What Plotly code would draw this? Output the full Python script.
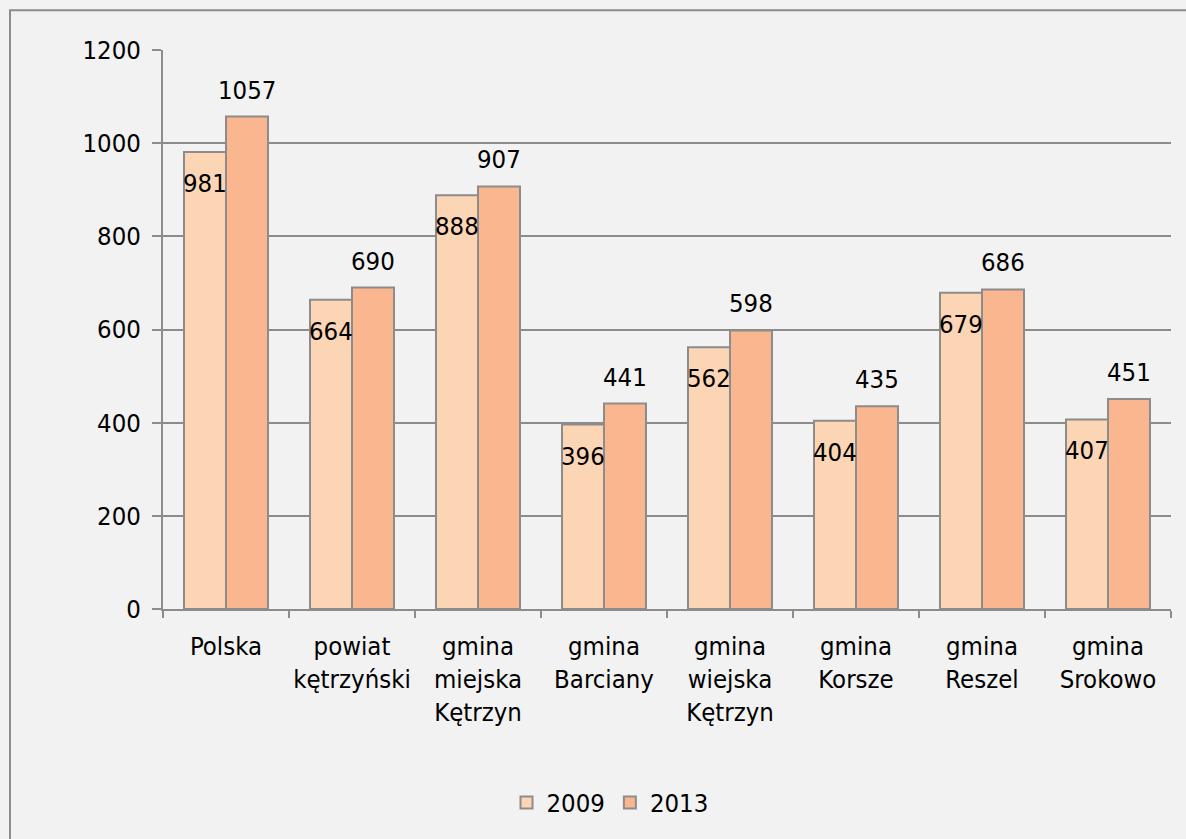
import plotly.graph_objects as go

categories = ["Polska", "powiat<br>kętrzyński", "gmina<br>miejska<br>Kętrzyn", "gmina<br>Barciany",
              "gmina<br>wiejska<br>Kętrzyn", "gmina<br>Korsze", "gmina<br>Reszel", "gmina<br>Srokowo"]
values_2009 = [981, 664, 888, 396, 562, 404, 679, 407]
values_2013 = [1057, 690, 907, 441, 598, 435, 686, 451]
y_ticks = [0, 200, 400, 600, 800, 1000, 1200]

FONT = "DejaVu Sans Condensed, DejaVu Sans, sans-serif"
FS = 25.5
C2009 = "#FCD5B5"
C2013 = "#FAB68F"
EDGE = "#8C8C8C"

W, H = 1186, 839
L, R, T, B = 163, 15, 50, 227
pw, ph = W - L - R, H - T - B

fig = go.Figure()
fig.add_trace(go.Bar(name="2009", x=categories, y=values_2009,
                     marker=dict(color=C2009, line=dict(color=EDGE, width=2))))
fig.add_trace(go.Bar(name="2013", x=categories, y=values_2013,
                     marker=dict(color=C2013, line=dict(color=EDGE, width=2))))

bar_px = pw / len(categories) * (2 / 3) / 2
for c, v in zip(categories, values_2009):
    fig.add_annotation(x=c, y=v, xref="x", yref="y", text=str(v), showarrow=False,
                       xshift=-bar_px / 2, yshift=-31,
                       font=dict(family=FONT, size=FS, color="black"))
for c, v in zip(categories, values_2013):
    fig.add_annotation(x=c, y=v, xref="x", yref="y", text=str(v), showarrow=False,
                       xshift=bar_px / 2, yshift=27,
                       font=dict(family=FONT, size=FS, color="black"))

# outer chart border (extends past the cropped right/bottom edges)
fig.add_shape(type="rect", xref="paper", yref="paper",
              x0=(10 - L) / pw, x1=(1230 - L) / pw,
              y0=-(880 - (T + ph)) / ph, y1=1 + (T - 10) / ph,
              line=dict(color=EDGE, width=2), fillcolor="rgba(0,0,0,0)", layer="below")

fig.update_layout(
    width=W, height=H,
    margin=dict(l=L, r=R, t=T, b=B, pad=0),
    paper_bgcolor="#F2F2F2", plot_bgcolor="#F2F2F2",
    barmode="group", bargap=1 / 3, bargroupgap=0,
    font=dict(family=FONT, size=FS, color="black"),
    showlegend=True,
    legend=dict(orientation="h", x=(610 - L) / pw, xanchor="center",
                y=-(807 - (T + ph)) / ph, yanchor="middle",
                font=dict(family=FONT, size=FS, color="black"),
                bgcolor="rgba(0,0,0,0)", itemwidth=30, tracegroupgap=0),
)
fig.update_xaxes(showline=True, linecolor=EDGE, linewidth=2,
                 ticks="outside", tickson="boundaries", ticklen=7, tickcolor=EDGE, tickwidth=2,
                 ticklabelstandoff=13, showgrid=False, tickangle=0)
fig.update_yaxes(range=[0, 1200], tickvals=y_ticks, showline=True, linecolor=EDGE, linewidth=2,
                 ticks="outside", ticklen=9, tickcolor=EDGE, tickwidth=2,
                 showgrid=True, gridcolor=EDGE, gridwidth=1.5, zeroline=False,
                 ticklabelstandoff=6)

# remove the browser's default page margin so the figure fills the window exactly
fig.write_html("out.html", config={"displayModeBar": False},
               post_script="document.body.style.margin='0';document.body.style.overflow='hidden';")
